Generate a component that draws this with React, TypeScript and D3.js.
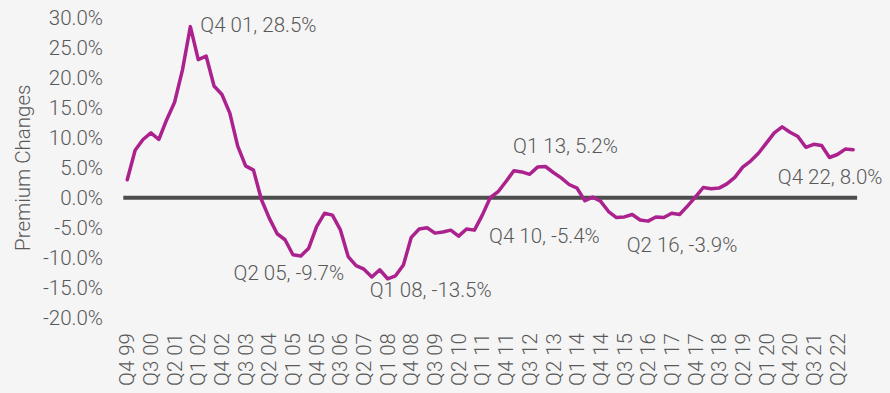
import React from "react";
import * as d3 from "d3";

const WIDTH = 890;
const HEIGHT = 393;

// Quarterly premium changes, Q4 99 .. Q4 22 (percent)
const quarters: string[] = (() => {
  const out: string[] = ["Q4 99"];
  for (let y = 2000; y <= 2022; y++) {
    for (let q = 1; q <= 4; q++) out.push(`Q${q} ${String(y % 100).padStart(2, "0")}`);
  }
  return out;
})();

const values: number[] = [
  3.0, 7.9, 9.7, 10.8, 9.7, 13.0, 15.9, 21.3, 28.5, 23.0,
  23.6, 18.6, 17.2, 14.1, 8.6, 5.3, 4.6, -0.3, -3.4, -6.0,
  -7.0, -9.5, -9.7, -8.4, -4.8, -2.6, -2.9, -5.3, -9.8, -11.3,
  -11.9, -13.2, -12.0, -13.5, -13.0, -11.2, -6.6, -5.2, -5.0, -5.9,
  -5.7, -5.4, -6.4, -5.2, -5.4, -2.9, 0.0, 1.0, 2.7, 4.5,
  4.3, 3.9, 5.1, 5.2, 4.2, 3.3, 2.2, 1.6, -0.5, 0.1,
  -0.6, -2.3, -3.3, -3.2, -2.8, -3.7, -3.9, -3.2, -3.3, -2.6,
  -2.8, -1.4, 0.1, 1.7, 1.5, 1.6, 2.3, 3.4, 5.1, 6.1,
  7.4, 9.1, 10.8, 11.8, 10.9, 10.2, 8.4, 8.9, 8.7, 6.7,
  7.2, 8.1, 8.0,
];

const yTicks: number[] = [30, 25, 20, 15, 10, 5, 0, -5, -10, -15, -20];

// annotated points: index into quarters, label offset from point
const annotations = [
  { i: 8, dx: 10, dy: -2, anchor: "start" },
  { i: 22, dx: -12, dy: 17, anchor: "middle" },
  { i: 33, dx: 43, dy: 11, anchor: "middle" },
  { i: 44, dx: 70, dy: 6, anchor: "middle" },
  { i: 53, dx: 20, dy: -21, anchor: "middle" },
  { i: 66, dx: 34, dy: 24, anchor: "middle" },
  { i: 92, dx: -23, dy: 27, anchor: "middle" },
];

const TEXT = "#595959";
const LINE = "#ab218e";
const FONT = "Roboto, 'Noto Sans', sans-serif";
const FS = 20.5;

export default function App() {
  const x = d3
    .scaleBand<number>()
    .domain(d3.range(quarters.length))
    .range([123.3, 857.1]);
  const cx = (i: number) => (x(i) as number) + x.bandwidth() / 2;
  const y = d3.scaleLinear().domain([-20, 30]).range([317.8, 17.6]);

  const line = d3
    .line<number>()
    .x((_, i) => cx(i))
    .y((d) => y(d));

  const fmt = (v: number) => `${v.toFixed(1)}%`;

  return (
    <svg
      width={WIDTH}
      height={HEIGHT}
      style={{ display: "block", position: "absolute", left: 0, top: 0 }}
      fontFamily={FONT}
    >
      <rect x={0} y={0} width={WIDTH} height={HEIGHT} fill="#f5f5f5" />

      {/* y axis labels */}
      {yTicks.map((t) => (
        <text
          key={t}
          x={103}
          y={y(t)}
          dy="0.35em"
          textAnchor="end"
          fontSize={FS}
          fontWeight={300}
          fill={TEXT}
        >
          {fmt(t)}
        </text>
      ))}

      {/* y axis title */}
      <text
        transform={`translate(23, ${(y(30) + y(-20)) / 2}) rotate(-90)`}
        dy="0.35em"
        textAnchor="middle"
        fontSize={FS}
        fontWeight={300}
        fill={TEXT}
      >
        Premium Changes
      </text>

      {/* zero line */}
      <line
        x1={x.range()[0]}
        x2={x.range()[1]}
        y1={y(0)}
        y2={y(0)}
        stroke="#4d4d4d"
        strokeWidth={4}
      />

      {/* x axis labels, every third quarter */}
      {quarters.map((q, i) =>
        i % 3 === 0 ? (
          <text
            key={q}
            transform={`translate(${cx(i)}, 333) rotate(-90)`}
            dy="0.35em"
            textAnchor="end"
            fontSize={FS}
            fontWeight={300}
            fill={TEXT}
          >
            {q}
          </text>
        ) : null
      )}

      {/* series */}
      <path
        d={line(values) as string}
        fill="none"
        stroke={LINE}
        strokeWidth={3.5}
        strokeLinejoin="round"
        strokeLinecap="round"
      />

      {/* data labels */}
      {annotations.map((a) => (
        <text
          key={a.i}
          x={cx(a.i) + a.dx}
          y={y(values[a.i]) + a.dy}
          dy="0.35em"
          textAnchor={a.anchor as any}
          fontSize={FS}
          fontWeight={300}
          fill={TEXT}
        >
          {`${quarters[a.i]}, ${fmt(values[a.i])}`}
        </text>
      ))}
    </svg>
  );
}
